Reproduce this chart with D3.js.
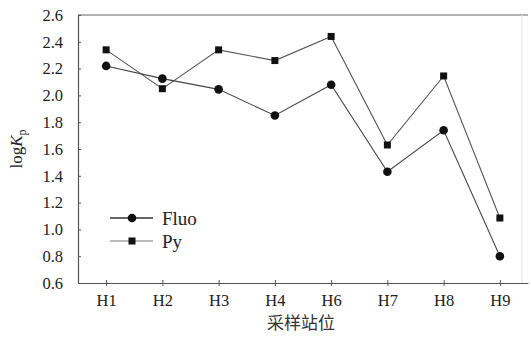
<!DOCTYPE html>
<html>
<head>
<meta charset="utf-8">
<script src="https://cdn.jsdelivr.net/npm/d3@7"></script>
<style>
  body { margin: 0; background: #fff; }
</style>
</head>
<body>
<div class="chart"></div>
<script>
const sites = ["H1", "H2", "H3", "H4", "H6", "H7", "H8", "H9"];
const fluo = [2.22, 2.125, 2.045, 1.85, 2.08, 1.43, 1.74, 0.80];
const py = [2.34, 2.05, 2.34, 2.26, 2.44, 1.63, 2.145, 1.085];
const yTicks = [0.6, 0.8, 1.0, 1.2, 1.4, 1.6, 1.8, 2.0, 2.2, 2.4, 2.6];

const margin = { top: 15, left: 78, right: 3, bottom: 60 };
const width = 531 - margin.left - margin.right;
const height = 343 - margin.top - margin.bottom;
const serif = "'Liberation Serif', 'DejaVu Serif', serif";

const svg = d3
  .select(".chart")
  .append("svg")
  .attr("width", width + margin.left + margin.right)
  .attr("height", height + margin.top + margin.bottom)
  .append("g")
  .attr("transform", `translate(${margin.left}, ${margin.top})`);

const xScale = d3.scalePoint()
  .domain(sites)
  .range([0, width])
  .padding(0.5);

const yScale = d3.scaleLinear().domain([0.6, 2.6]).range([height, 0]);

// frame
svg.append("line")
  .attr("x1", 0).attr("x2", width).attr("y1", 0).attr("y2", 0)
  .attr("stroke", "#999").attr("stroke-width", 1.5);
svg.append("line")
  .attr("x1", width - 6).attr("x2", width - 6).attr("y1", 0).attr("y2", height)
  .attr("stroke", "#e4e4e4");

const xAxis = svg.append("g")
  .attr("class", "axis x-axis")
  .attr("transform", `translate(0, ${height})`)
  .call(d3.axisBottom(xScale).tickSizeInner(3).tickSizeOuter(0).tickPadding(8));

xAxis.selectAll(".tick line").attr("y1", -3);

const yAxis = svg.append("g")
  .attr("class", "axis y-axis")
  .call(d3.axisLeft(yScale).tickValues(yTicks).tickFormat(d3.format(".1f")).tickSizeInner(-3).tickSizeOuter(0).tickPadding(15));

yAxis.selectAll(".tick text").attr("x", -15);

svg.selectAll(".axis")
  .attr("font-family", serif)
  .attr("font-size", 16.5);
svg.selectAll(".axis text")
  .style("font-family", serif)
  .style("font-size", "16.5px")
  .attr("fill", "#222");
svg.selectAll(".axis .domain, .axis line").attr("stroke", "#555");
svg.selectAll(".axis .domain").attr("stroke-width", 1.2);

// axis titles
svg.append("text")
  .attr("x", width / 2 - 2)
  .attr("y", height + 46)
  .attr("text-anchor", "middle")
  .attr("font-family", "'Noto Sans CJK SC', sans-serif")
  .attr("font-size", "17px")
  .attr("fill", "#333")
  .text("采样站位");

const yt = svg.append("text")
  .attr("transform", `translate(-56, ${height / 2}) rotate(-90)`)
  .attr("text-anchor", "middle")
  .attr("font-family", serif)
  .attr("font-size", "17px")
  .attr("fill", "#222");
yt.append("tspan").text("log");
yt.append("tspan").attr("font-style", "italic").text("K");
yt.append("tspan").attr("font-size", "12px").attr("dy", 4).text("p");

const line = d3.line()
  .x((d, i) => xScale(sites[i]))
  .y(d => yScale(d));

svg.append("path")
  .datum(py)
  .attr("fill", "none")
  .attr("stroke", "#555")
  .attr("stroke-width", 1.1)
  .attr("d", line);

svg.append("path")
  .datum(fluo)
  .attr("fill", "none")
  .attr("stroke", "#444")
  .attr("stroke-width", 1.1)
  .attr("d", line);

svg.selectAll(".py-pt")
  .data(py)
  .enter()
  .append("rect")
  .attr("class", "py-pt")
  .attr("x", (d, i) => xScale(sites[i]) - 3.5)
  .attr("y", d => yScale(d) - 3.5)
  .attr("width", 7)
  .attr("height", 7)
  .attr("fill", "#111");

svg.selectAll(".fluo-pt")
  .data(fluo)
  .enter()
  .append("circle")
  .attr("class", "fluo-pt")
  .attr("cx", (d, i) => xScale(sites[i]))
  .attr("cy", d => yScale(d))
  .attr("r", 4.3)
  .attr("fill", "#111");

// legend
const legend = svg.append("g").attr("transform", "translate(32, 203)");
legend.append("line").attr("x1", 0).attr("x2", 43).attr("y1", 0).attr("y2", 0)
  .attr("stroke", "#333").attr("stroke-width", 1.6);
legend.append("circle").attr("cx", 22).attr("cy", 0).attr("r", 4.3).attr("fill", "#111");
legend.append("text").attr("x", 52).attr("y", 7)
  .attr("font-family", serif).attr("font-size", "19px").attr("fill", "#222")
  .text("Fluo");
legend.append("line").attr("x1", 0).attr("x2", 43).attr("y1", 23).attr("y2", 23)
  .attr("stroke", "#777").attr("stroke-width", 1);
legend.append("rect").attr("x", 18.5).attr("y", 19.5).attr("width", 7).attr("height", 7).attr("fill", "#111");
legend.append("text").attr("x", 52).attr("y", 30)
  .attr("font-family", serif).attr("font-size", "19px").attr("fill", "#222")
  .text("Py");
</script>
</body>
</html>
